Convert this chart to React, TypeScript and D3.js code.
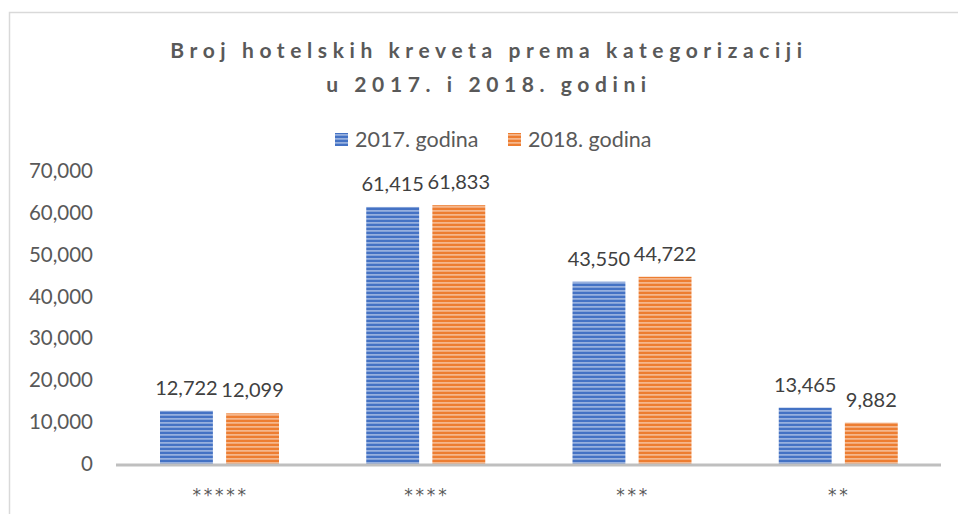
import React from 'react';
import * as d3 from 'd3';

const categories = ['*****', '****', '***', '**'];
const series2017 = [12722, 61415, 43550, 13465];
const series2018 = [12099, 61833, 44722, 9882];
const seriesNames = ['2017. godina', '2018. godina'];
const yTicks = [0, 10000, 20000, 30000, 40000, 50000, 60000, 70000];
const titleLines = ['Broj hotelskih kreveta prema kategorizaciji', 'u 2017. i 2018. godini'];

const colors = ['#4472C4', '#ED7D31'];
const font = 'Lato, "Open Sans", sans-serif';

const App = () => {
  const width = 958;
  const height = 514;
  const left = 116;
  const right = 941;
  const bottom = 464;

  const x = d3.scaleBand().domain(categories).range([left, right]).paddingInner(0).paddingOuter(0);
  // the pair of bars sits in the middle of each category band
  const inner = d3.scaleBand().domain(seriesNames).range([44, 163]).paddingInner(0.2).paddingOuter(0);
  const y = d3.scaleLinear().domain([0, 70000]).range([bottom, 171]);
  const fmt = d3.format(',');

  const allSeries = [series2017, series2018];
  const legendX = [335, 508];

  return (
    <svg width={width} height={height} style={{ position: 'absolute', left: 0, top: 0 }}>
      <defs>
        {colors.map((c, i) => (
          <pattern key={c} id={`stripe${i}`} width={8} height={4} patternUnits="userSpaceOnUse">
            <rect width={8} height={4} fill={c} />
            <rect y={2.2} width={8} height={1.4} fill="#fff" opacity={0.55} />
          </pattern>
        ))}
      </defs>
      <rect x={0} y={0} width={width} height={height} fill="#fff" />
      <path d={`M9.5,${height} V12.5 H${width}`} fill="none" stroke="#D9D9D9" strokeWidth={1.5} />

      {titleLines.map((t, i) => (
        <text key={t} x={489} y={58 + i * 34} textAnchor="middle" fontFamily={font} fontWeight="bold"
          fontSize={21} letterSpacing={5.6} fill="#595959">{t}</text>
      ))}

      {seriesNames.map((s, i) => (
        <g key={s}>
          <rect x={legendX[i]} y={133} width={13} height={13} fill={`url(#stripe${i})`} />
          <text x={legendX[i] + 20} y={147} fontFamily={font} fontSize={21.5} fill="#595959">{s}</text>
        </g>
      ))}

      {yTicks.map(t => (
        <text key={t} x={93} y={y(t) + 7} textAnchor="end" fontFamily={font} fontSize={20.5} fill="#595959">{fmt(t)}</text>
      ))}

      {categories.map((c, ci) => (
        <g key={c}>
          {allSeries.map((vals, si) => {
            const bx = (x(c) as number) + (inner(seriesNames[si]) as number);
            const bw = inner.bandwidth();
            return (
              <g key={si}>
                <rect x={bx} y={y(vals[ci])} width={bw} height={bottom - y(vals[ci])} fill={`url(#stripe${si})`} />
                <text x={bx + bw / 2} y={y(vals[ci]) - 16} textAnchor="middle" fontFamily={font} fontSize={20} fill="#404040">{fmt(vals[ci])}</text>
              </g>
            );
          })}
          <text x={(x(c) as number) + x.bandwidth() / 2 + 1.5} y={501} textAnchor="middle" fontFamily='"DejaVu Sans", sans-serif'
            fontSize={17} letterSpacing={2.8} fill="#595959">{c}</text>
        </g>
      ))}

      <line x1={left} x2={right} y1={bottom + 1} y2={bottom + 1} stroke="#BFBFBF" strokeWidth={3} />
    </svg>
  );
};

export default App;
